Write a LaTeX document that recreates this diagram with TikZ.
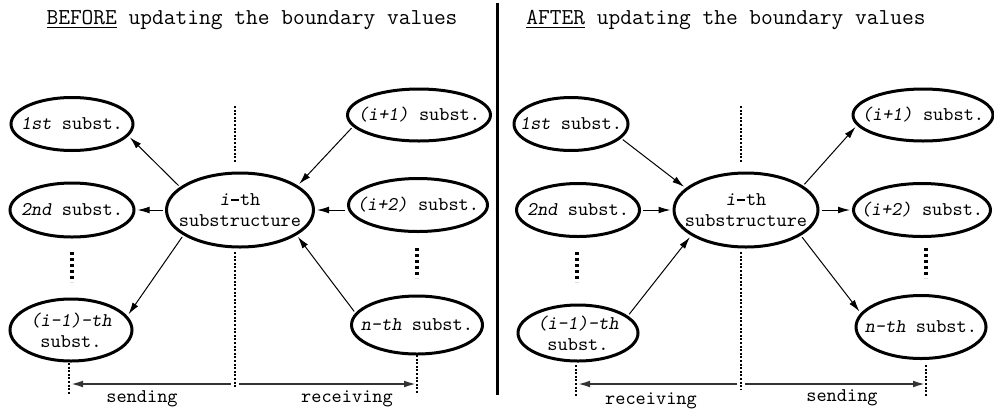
\documentclass[tikz,border=0pt]{standalone}
\usepackage{fontspec}
\usetikzlibrary{shapes.geometric,arrows.meta}
\newcommand{\slim}[1]{\makebox[0pt]{#1}}
\newcommand{\thdash}{\makebox[0.525em]{\rule[0.22em]{0.42em}{0.11em}}}

\begin{document}
\begin{tikzpicture}[x=0.5pt,y=-0.5pt,
    sub/.style={ellipse,draw,line width=1.5pt,inner sep=0pt,align=center,
      font=\ttfamily\fontsize{9.7}{10.5}\selectfont},
    flow/.style={-{Latex[length=6pt,width=3.4pt]},line width=0.5pt,
      shorten <=1pt,shorten >=1pt},
    cut/.style={line width=1pt,dash pattern=on 1pt off 0.8pt},
    more/.style={line width=1.8pt,dash pattern=on 1.4pt off 1.6pt},
    span/.style={-{Latex[length=6pt,width=3.4pt]},line width=0.9pt,black!80},
    lbl/.style={font=\ttfamily\fontsize{9.7}{10}\selectfont},
    head/.style={font=\ttfamily\fontsize{11.4}{12}\selectfont}]
  \useasboundingbox (0,0) rectangle (994,413);

  % left half
  \node[head] (btitle) at (252,20) {\underline{BEFORE} updating the boundary values};
  \node[sub,minimum width=61pt,minimum height=26.5pt] (bfirst) at (72,124) {\slim{\textsl{1st} subst.}};
  \node[sub,minimum width=62pt,minimum height=27pt] (bsecond) at (72,210) {\slim{\textsl{2nd} subst.}};
  \node[sub,minimum width=61pt,minimum height=31pt] (bprev) at (71,330) {\slim{\textsl{(i-1)-th}}\\\slim{subst.}};
  \node[sub,minimum width=73.5pt,minimum height=37pt] (bmain) at (240,210) {\slim{\textsl{i}\thdash th}\\\slim{substructure}};
  \node[sub,minimum width=71.5pt,minimum height=26pt] (bnext) at (419,115) {\slim{\textsl{(i+1)} subst.}};
  \node[sub,minimum width=69.5pt,minimum height=26.5pt] (bnextnext) at (418,205) {\slim{\textsl{(i+2)} subst.}};
  \node[sub,minimum width=65.5pt,minimum height=29pt] (blast) at (417,325) {\slim{\textsl{n-th} subst.}};

  \draw[flow] (bmain.159) -- (bfirst.-12);
  \draw[flow] (bmain.west) -- (bsecond.east);
  \draw[flow] (bmain.204) -- (bprev.14);
  \draw[flow] (bnext.190) -- (bmain.23);
  \draw[flow] (bnextnext.west |- bmain.east) -- (bmain.east);
  \draw[flow] (blast.169) -- (bmain.336);

  \draw[cut] (235,106) -- (235,163);
  \draw[cut] (235,252) -- (235,388);
  \draw[cut] (69,363) -- (69,395);
  \draw[cut] (417,355) -- (417,393);
  \draw[more] (72,252) -- (72,282);
  \draw[more] (417,248) -- (417,278);

  \coordinate (bmid) at (235,384);
  \coordinate (bleft) at (71,384);
  \coordinate (bright) at (416,384);
  \draw[span,shorten <=2pt] (bmid) -- (bleft);
  \draw[span,shorten <=2pt] (bmid) -- (bright);
  \node[lbl] (bsend) at (142,399) {sending};
  \node[lbl] (brecv) at (347,399) {receiving};

  \draw[line width=1.5pt] (497,3) -- (497,395);

  % right half
  \node[head] (atitle) at (726,20) {\underline{AFTER} updating the boundary values};
  \node[sub,minimum width=57pt,minimum height=26.5pt] (afirst) at (571,124) {\slim{\textsl{1st} subst.}};
  \node[sub,minimum width=61.5pt,minimum height=26.5pt] (asecond) at (578,210) {\slim{\textsl{2nd} subst.}};
  \node[sub,minimum width=60pt,minimum height=28pt] (aprev) at (578,333) {\slim{\textsl{(i-1)-th}}\\\slim{subst.}};
  \node[sub,minimum width=72pt,minimum height=37pt] (amain) at (746,210) {\slim{\textsl{i}\thdash th}\\\slim{substructure}};
  \node[sub,minimum width=70pt,minimum height=26pt] (anext) at (923,115) {\slim{\textsl{(i+1)} subst.}};
  \node[sub,minimum width=68.5pt,minimum height=26.5pt] (anextnext) at (922,210) {\slim{\textsl{(i+2)} subst.}};
  \node[sub,minimum width=65pt,minimum height=31.5pt] (alast) at (921,327) {\slim{\textsl{n-th} subst.}};

  \draw[flow] (afirst.-16) -- (amain.160);
  \draw[flow] (asecond.east) -- (amain.west);
  \draw[flow] (aprev.19) -- (amain.205);
  \draw[flow] (amain.23) -- (anext.189);
  \draw[flow] (amain.east) -- (anextnext.west);
  \draw[flow] (amain.335) -- (alast.167);

  \draw[cut] (741,106) -- (741,163);
  \draw[cut] (741,252) -- (741,390);
  \draw[cut] (576,365) -- (576,397);
  \draw[cut] (926,365) -- (926,397);
  \draw[more] (577,252) -- (577,282);
  \draw[more] (926,248) -- (926,278);

  \coordinate (amid) at (741,384);
  \coordinate (aleft) at (578,384);
  \coordinate (aright) at (925,384);
  \draw[span,shorten <=2pt] (amid) -- (aleft);
  \draw[span,shorten <=2pt] (amid) -- (aright);
  \node[lbl] (arecv) at (651,401) {receiving};
  \node[lbl] (asend) at (842,398) {sending};
\end{tikzpicture}
\end{document}
